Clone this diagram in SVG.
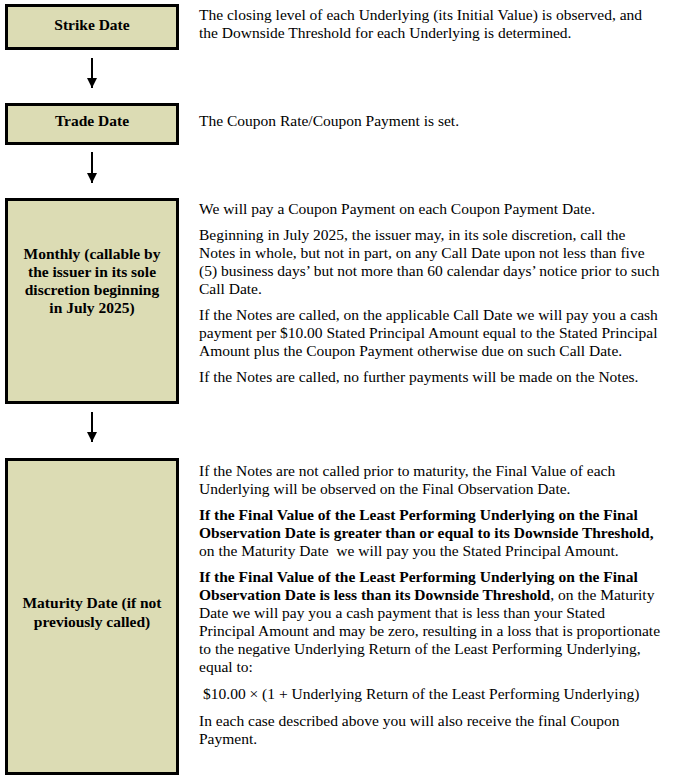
<svg xmlns="http://www.w3.org/2000/svg" width="681" height="777" viewBox="0 0 681 777">
<defs>
<style>
.box{fill:#dcdcb4;stroke:#000;stroke-width:3}
.lbl{font-family:"Liberation Serif","Times New Roman",serif;font-size:15.5px;font-weight:bold;text-anchor:middle;fill:#000}
.txt{font-family:"Liberation Serif","Times New Roman",serif;font-size:15.5px;fill:#000}
.b{font-weight:bold}
.conn{stroke:#000;stroke-width:2;fill:none}
</style>
<marker id="ah" viewBox="0 0 10 10" refX="10" refY="5" markerWidth="5" markerHeight="5" orient="auto" markerUnits="strokeWidth">
<path d="M0,0 L10,5 L0,10 z" fill="#000"/>
</marker>
</defs>
<rect width="681" height="777" fill="#fff"/>

<g id="strike-date">
<rect class="box" x="6.5" y="5.5" width="171" height="43"/>
<text class="lbl" x="92" y="30">Strike Date</text>
<text class="txt" x="199" y="20">The closing level of each Underlying (its Initial Value) is observed, and</text>
<text class="txt" x="199" y="38">the Downside Threshold for each Underlying is determined.</text>
</g>

<g id="trade-date">
<rect class="box" x="6.5" y="104.5" width="171" height="39"/>
<text class="lbl" x="92" y="126">Trade Date</text>
<text class="txt" x="199" y="126">The Coupon Rate/Coupon Payment is set.</text>
</g>

<g id="monthly">
<rect class="box" x="6.5" y="199.5" width="171" height="203"/>
<text class="lbl" x="92" y="259">Monthly (callable by</text>
<text class="lbl" x="92" y="277">the issuer in its sole</text>
<text class="lbl" x="92" y="295">discretion beginning</text>
<text class="lbl" x="92" y="313">in July 2025)</text>
<text class="txt" x="199" y="214">We will pay a Coupon Payment on each Coupon Payment Date.</text>
<text class="txt" x="199" y="240">Beginning in July 2025, the issuer may, in its sole discretion, call the</text>
<text class="txt" x="199" y="258">Notes in whole, but not in part, on any Call Date upon not less than five</text>
<text class="txt" x="199" y="276">(5) business days’ but not more than 60 calendar days’ notice prior to such</text>
<text class="txt" x="199" y="294">Call Date.</text>
<text class="txt" x="199" y="320">If the Notes are called, on the applicable Call Date we will pay you a cash</text>
<text class="txt" x="199" y="338">payment per $10.00 Stated Principal Amount equal to the Stated Principal</text>
<text class="txt" x="199" y="356">Amount plus the Coupon Payment otherwise due on such Call Date.</text>
<text class="txt" x="199" y="382">If the Notes are called, no further payments will be made on the Notes.</text>
</g>

<g id="maturity-date">
<rect class="box" x="6.5" y="459.5" width="171" height="314"/>
<text class="lbl" x="92" y="608">Maturity Date (if not</text>
<text class="lbl" x="92" y="627">previously called)</text>
<text class="txt" x="199" y="476">If the Notes are not called prior to maturity, the Final Value of each</text>
<text class="txt" x="199" y="494">Underlying will be observed on the Final Observation Date.</text>
<text class="txt b" x="199" y="520">If the Final Value of the Least Performing Underlying on the Final</text>
<text class="txt b" x="199" y="538">Observation Date is greater than or equal to its Downside Threshold,</text>
<text class="txt" x="199" y="556" xml:space="preserve">on the Maturity Date  we will pay you the Stated Principal Amount.</text>
<text class="txt b" x="199" y="582">If the Final Value of the Least Performing Underlying on the Final</text>
<text class="txt" x="199" y="600"><tspan class="b">Observation Date is less than its Downside Threshold</tspan>, on the Maturity</text>
<text class="txt" x="199" y="618">Date we will pay you a cash payment that is less than your Stated</text>
<text class="txt" x="199" y="636">Principal Amount and may be zero, resulting in a loss that is proportionate</text>
<text class="txt" x="199" y="654">to the negative Underlying Return of the Least Performing Underlying,</text>
<text class="txt" x="199" y="672">equal to:</text>
<text class="txt" x="203" y="699">$10.00 × (1 + Underlying Return of the Least Performing Underlying)</text>
<text class="txt" x="199" y="726">In each case described above you will also receive the final Coupon</text>
<text class="txt" x="199" y="744">Payment.</text>
</g>

<g id="connectors">
<line class="conn" x1="92" y1="58" x2="92" y2="88" marker-end="url(#ah)"/>
<line class="conn" x1="92" y1="152" x2="92" y2="183" marker-end="url(#ah)"/>
<line class="conn" x1="92" y1="412" x2="92" y2="442" marker-end="url(#ah)"/>
</g>
</svg>
